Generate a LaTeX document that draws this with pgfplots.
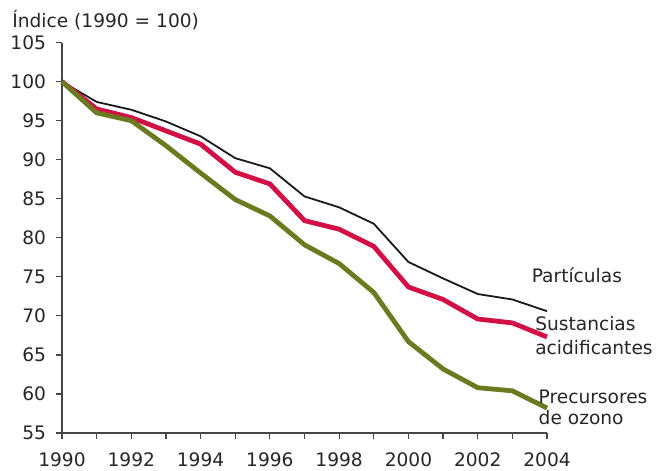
\documentclass[border=0pt]{standalone}
\usepackage{pgfplots}
\pgfplotsset{compat=1.18}
\usepackage{fontspec}
\setmainfont{DejaVu Sans}
\definecolor{partc}{RGB}{25,25,25}
\definecolor{acidc}{RGB}{210,16,70}
\definecolor{ozonc}{RGB}{107,122,30}
\definecolor{axc}{RGB}{70,70,70}
\begin{document}
\begin{tikzpicture}[font=\fontsize{9.3}{11}\selectfont]
\useasboundingbox (-31pt,-18.5pt) rectangle (300pt,216.5pt);
\begin{axis}[
  at={(0,0)}, anchor=south west,
  scale only axis, width=242.5pt, height=195.2pt,
  xmin=1990, xmax=2004, ymin=55, ymax=105,
  axis x line*=bottom, axis y line*=left,
  axis line style={axc, line width=0.6pt},
  xtick={1990,1991,...,2004},
  xticklabels={1990,,1992,,1994,,1996,,1998,,2000,,2002,,2004},
  ytick={55,60,...,105},
  tick align=outside,
  major tick length=3pt,
  tick style={axc, line width=0.6pt},
  xticklabel style={text=black!85, yshift=-3.5pt},
  yticklabel style={text=black!85, xshift=-1.5pt},
  /pgf/number format/assume math mode=true,
  clip=false,
]
\addplot[partc, line width=0.9pt] coordinates {
(1990,100) (1991,97.4) (1992,96.4) (1993,94.9) (1994,93.0) (1995,90.2) (1996,88.9)
(1997,85.3) (1998,83.9) (1999,81.8) (2000,76.9) (2001,74.8) (2002,72.8) (2003,72.1) (2004,70.6)};
\addplot[acidc, line width=2.4pt] coordinates {
(1990,100) (1991,96.5) (1992,95.4) (1993,93.7) (1994,92.0) (1995,88.4) (1996,86.9)
(1997,82.2) (1998,81.1) (1999,78.9) (2000,73.7) (2001,72.1) (2002,69.6) (2003,69.1) (2004,67.3)};
\addplot[ozonc, line width=2.4pt] coordinates {
(1990,100) (1991,96.0) (1992,95.0) (1993,91.8) (1994,88.3) (1995,84.9) (1996,82.8)
(1997,79.1) (1998,76.7) (1999,73.0) (2000,66.7) (2001,63.2) (2002,60.8) (2003,60.4) (2004,58.2)};
\node[anchor=west, inner sep=0pt, text=black!85] at (axis cs:2003.55,75.2) {Partículas};
\node[anchor=west, inner sep=0pt, align=left, text=black!85, font=\fontsize{9.3}{12}\selectfont] at (axis cs:2003.65,67.5) {Sustancias\\acidificantes};
\node[anchor=west, inner sep=0pt, align=left, text=black!85, font=\fontsize{9.3}{10.5}\selectfont] at (axis cs:2003.75,58.3) {Precursores\\de ozono};
\end{axis}
\node[anchor=west, inner sep=0pt, text=black!85] at (-25pt,206.5pt) {Índice (1990 = 100)};
\end{tikzpicture}
\end{document}
